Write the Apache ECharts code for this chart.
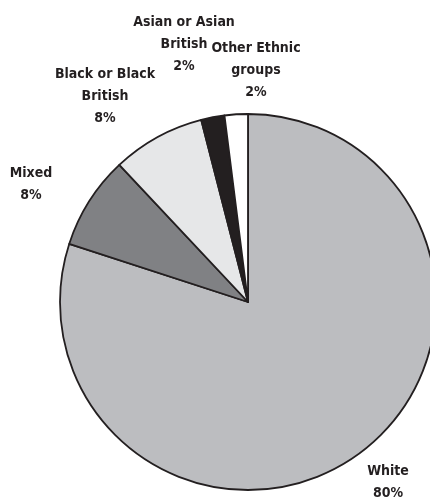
<!DOCTYPE html>
<html>
<head>
<meta charset="utf-8">
<script src="https://cdn.jsdelivr.net/npm/echarts@6/dist/echarts.min.js"></script>
<style>
html,body{margin:0;padding:0;background:#fff;}
#chart{width:430px;height:502px;}
</style>
</head>
<body>
<div id="chart"></div>
<script>
const categories = ['White', 'Mixed', 'Black or Black\nBritish', 'Asian or Asian\nBritish', 'Other Ethnic\ngroups'];
const values = [80, 8, 8, 2, 2];
const sliceColors = ['#bcbdc0', '#808184', '#e6e7e8', '#231f20', '#ffffff'];
// label block centres (px)
const labelCentres = [[388, 482], [31, 184], [105, 96], [184, 44], [256, 70]];

const chart = echarts.init(document.getElementById('chart'), null, {renderer: 'canvas'});
chart.setOption({
  animation: false,
  backgroundColor: '#ffffff',
  series: [{
    type: 'pie',
    center: [248, 302],
    radius: 188,
    startAngle: 90,
    clockwise: true,
    avoidLabelOverlap: false,
    data: categories.map((c, i) => ({
      name: c,
      value: values[i],
      itemStyle: {color: sliceColors[i]}
    })),
    itemStyle: {borderColor: '#231f20', borderWidth: 1.8},
    label: {
      show: true,
      position: 'outside',
      formatter: p => p.name + '\n' + p.value + '%',
      color: '#231f20',
      fontFamily: '"DejaVu Sans Condensed", "DejaVu Sans", sans-serif',
      fontWeight: 'bold',
      fontSize: 14,
      lineHeight: 22,
      align: 'center'
    },
    labelLine: {show: false},
    labelLayout: p => ({
      x: labelCentres[p.dataIndex][0],
      y: labelCentres[p.dataIndex][1],
      align: 'center',
      verticalAlign: 'middle'
    }),
    emphasis: {disabled: true}
  }]
});
</script>
</body>
</html>
